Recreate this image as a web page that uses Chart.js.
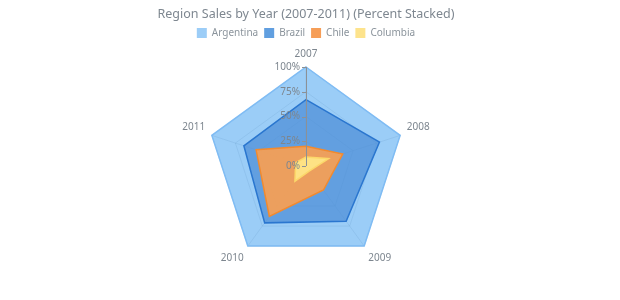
<!DOCTYPE html>
<html lang="en">
<head>
    <meta charset="UTF-8">
    <title>Region Sales by Year</title>
    <script src="https://cdn.jsdelivr.net/npm/chart.js"></script>
    <style>
        body { margin: 0; background: #fff; }
        .wrap { width: 620px; height: 300px; }
    </style>
</head>
<body>
    <div class="wrap"><canvas id="radar"></canvas></div>

    <script>
        // Data (share of each region per year, in percent)
        const years = ['2007', '2008', '2009', '2010', '2011'];
        const argentina = [33, 22, 31, 29, 34];
        const brazil = [47, 39, 39, 8, 13];
        const chile = [11, 15, 24, 44, 42];
        const columbia = [9, 24, 6, 19, 11];
        const tickLabels = ['0%', '25%', '50%', '75%', '100%'];

        // percent stacked: each ring is the running total from the inside out
        const inner = [columbia, chile, brazil, argentina];
        const totals = [];
        let run = years.map(() => 0);
        inner.forEach(s => {
            run = run.map((v, i) => v + s[i]);
            totals.push(run.slice());
        });
        const [colStack, chiStack, braStack, argStack] = totals;

        const font = "'Noto Sans', sans-serif";
        const swatches = ['#9ccdf7', '#619fe0', '#f69e58', '#fde38c'];

        // vertical value axis with tick marks on the left, drawn over the fills
        const axisPlugin = {
            id: 'axisLine',
            afterDatasetsDraw(chart) {
                const s = chart.scales.r;
                const c = chart.ctx;
                const x = Math.round(s.xCenter);
                c.save();
                c.strokeStyle = '#8c9196';
                c.lineWidth = 1;
                c.beginPath();
                c.moveTo(x + 0.5, s.yCenter);
                c.lineTo(x + 0.5, s.yCenter - s.drawingArea);
                c.stroke();
                c.fillStyle = '#7d868f';
                c.font = '10px ' + font;
                c.textAlign = 'right';
                c.textBaseline = 'middle';
                s.ticks.forEach((t, i) => {
                    const y = s.yCenter - s.getDistanceFromCenterForValue(t.value);
                    c.beginPath();
                    c.moveTo(x - 4, Math.round(y) + 0.5);
                    c.lineTo(x, Math.round(y) + 0.5);
                    c.stroke();
                    c.fillText(tickLabels[i], x - 6, y);
                });
                c.restore();
            }
        };

        new Chart(document.getElementById('radar'), {
            type: 'radar',
            data: {
                labels: years,
                datasets: [
                    {
                        label: 'Argentina',
                        data: argStack,
                        order: 4,
                        backgroundColor: 'rgba(64,160,240,0.52)',
                        borderColor: '#7fbcf4',
                        borderWidth: 1.5,
                        fill: true
                    },
                    {
                        label: 'Brazil',
                        data: braStack,
                        order: 3,
                        backgroundColor: 'rgba(76,141,215,0.72)',
                        borderColor: '#2a76cf',
                        borderWidth: 1.5,
                        fill: true
                    },
                    {
                        label: 'Chile',
                        data: chiStack,
                        order: 2,
                        backgroundColor: 'rgba(252,160,80,0.9)',
                        borderColor: '#f28a2e',
                        borderWidth: 1.5,
                        fill: true
                    },
                    {
                        label: 'Columbia',
                        data: colStack,
                        order: 1,
                        backgroundColor: 'rgba(255,230,135,0.95)',
                        borderColor: '#fcd86a',
                        borderWidth: 1.5,
                        fill: true
                    }
                ]
            },
            options: {
                responsive: true,
                maintainAspectRatio: false,
                animation: false,
                elements: { point: { radius: 0 }, line: { tension: 0 } },
                layout: { padding: { left: 0, right: 8, top: 0, bottom: 24 } },
                plugins: {
                    title: {
                        display: true,
                        text: 'Region Sales by Year (2007-2011) (Percent Stacked)',
                        color: '#7e8790',
                        font: { family: font, size: 12.5, weight: 'normal' },
                        padding: { top: 7, bottom: 0 }
                    },
                    legend: {
                        maxHeight: 17,
                        labels: {
                            boxWidth: 10,
                            boxHeight: 10,
                            padding: 6,
                            color: '#8b949c',
                            font: { family: font, size: 10 },
                            sort: (a, b) => a.datasetIndex - b.datasetIndex,
                            // flat swatches, no outline
                            generateLabels(chart) {
                                const items = Chart.defaults.plugins.legend.labels.generateLabels(chart);
                                items.forEach(it => {
                                    it.fillStyle = swatches[it.datasetIndex];
                                    it.strokeStyle = swatches[it.datasetIndex];
                                    it.lineWidth = 0;
                                });
                                return items;
                            }
                        }
                    },
                    tooltip: { enabled: false }
                },
                scales: {
                    r: {
                        min: 0,
                        max: 100,
                        ticks: { stepSize: 25, display: false },
                        grid: { color: 'rgba(120,130,140,0.18)' },
                        angleLines: { color: 'rgba(120,130,140,0.18)' },
                        pointLabels: {
                            color: '#7d868f',
                            font: { family: font, size: 10 },
                            padding: 7
                        }
                    }
                }
            },
            plugins: [axisPlugin]
        });
    </script>
</body>
</html>
